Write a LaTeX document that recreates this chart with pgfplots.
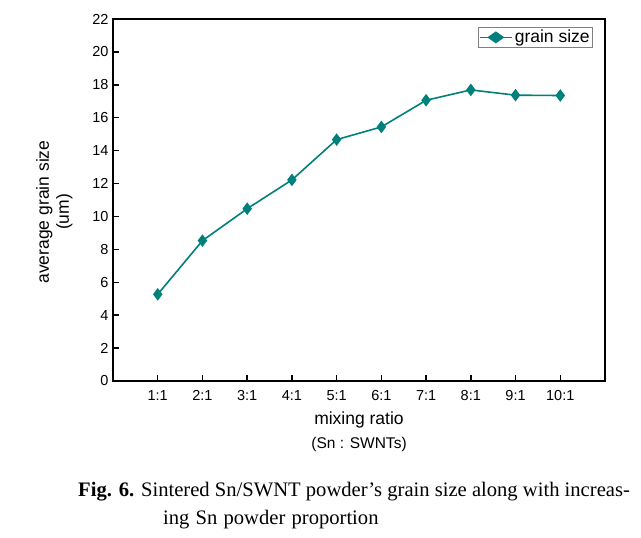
\documentclass[border=0pt]{standalone}
\usepackage{fontspec}
\setmainfont{Liberation Sans}
\newfontfamily\capfont{Liberation Serif}
\usepackage{pgfplots}
\pgfplotsset{compat=1.18}
\definecolor{teal1}{RGB}{0,128,122}
\begin{document}
\begin{tikzpicture}
\path[use as bounding box] (0,0) rectangle (641bp,538bp);
\begin{axis}[
  at={(113bp,157bp)}, anchor=south west,
  scale only axis, width=492bp, height=362bp,
  xmin=0, xmax=11, ymin=0, ymax=22,
  xtick={1,...,10},
  xticklabels={1:1,2:1,3:1,4:1,5:1,6:1,7:1,8:1,9:1,10:1},
  ytick={0,2,...,22},
  tick align=inside,
  xtick pos=bottom, ytick pos=left,
  major tick length=6bp,
  axis line style={line width=2bp},
  tick style={line width=1.4bp, black},
  tick label style={font=\fontsize{14.5bp}{16bp}\selectfont},
  xticklabel style={yshift=-6bp},
  yticklabel style={xshift=-1bp},
  /pgf/number format/assume math mode=true,
  xlabel={mixing ratio\\[3bp]{\fontsize{15.5bp}{17bp}\selectfont(Sn : SWNTs)}},
  xlabel style={align=center, font=\fontsize{17.5bp}{21bp}\selectfont, yshift=-4bp},
  ylabel={average grain size\\(um)},
  ylabel style={align=center, font=\fontsize{17.5bp}{20bp}\selectfont, yshift=13bp, xshift=-12bp},
  legend style={at={(rel axis cs:1,1)}, anchor=north east, xshift=-12bp, yshift=-8bp,
    draw=gray, line width=0.6bp, font=\fontsize{17.5bp}{19bp}\selectfont,
    inner sep=1bp, row sep=0bp},
  legend cell align=left,
  legend image post style={xscale=1.9},
]
\addplot[color=teal1, line width=1.6bp, mark=diamond*, mark size=5bp,
  mark options={fill=teal1, draw=teal1}]
  coordinates {(1,5.27) (2,8.53) (3,10.47) (4,12.22) (5,14.67) (6,15.44) (7,17.06) (8,17.69) (9,17.37) (10,17.35)};
\addlegendentry{grain size}
\end{axis}
\node[anchor=base west, font=\capfont\fontsize{20.6bp}{24bp}\selectfont, inner sep=0] at (78bp,41bp)
  {\textbf{Fig. 6.} Sintered Sn/SWNT powder’s grain size along with increas-};
\node[anchor=base west, font=\capfont\fontsize{20.6bp}{24bp}\selectfont, inner sep=0] at (163bp,14bp)
  {ing\hspace{0.3em}Sn\hspace{0.3em}powder\hspace{0.3em}proportion};
\end{tikzpicture}
\end{document}
